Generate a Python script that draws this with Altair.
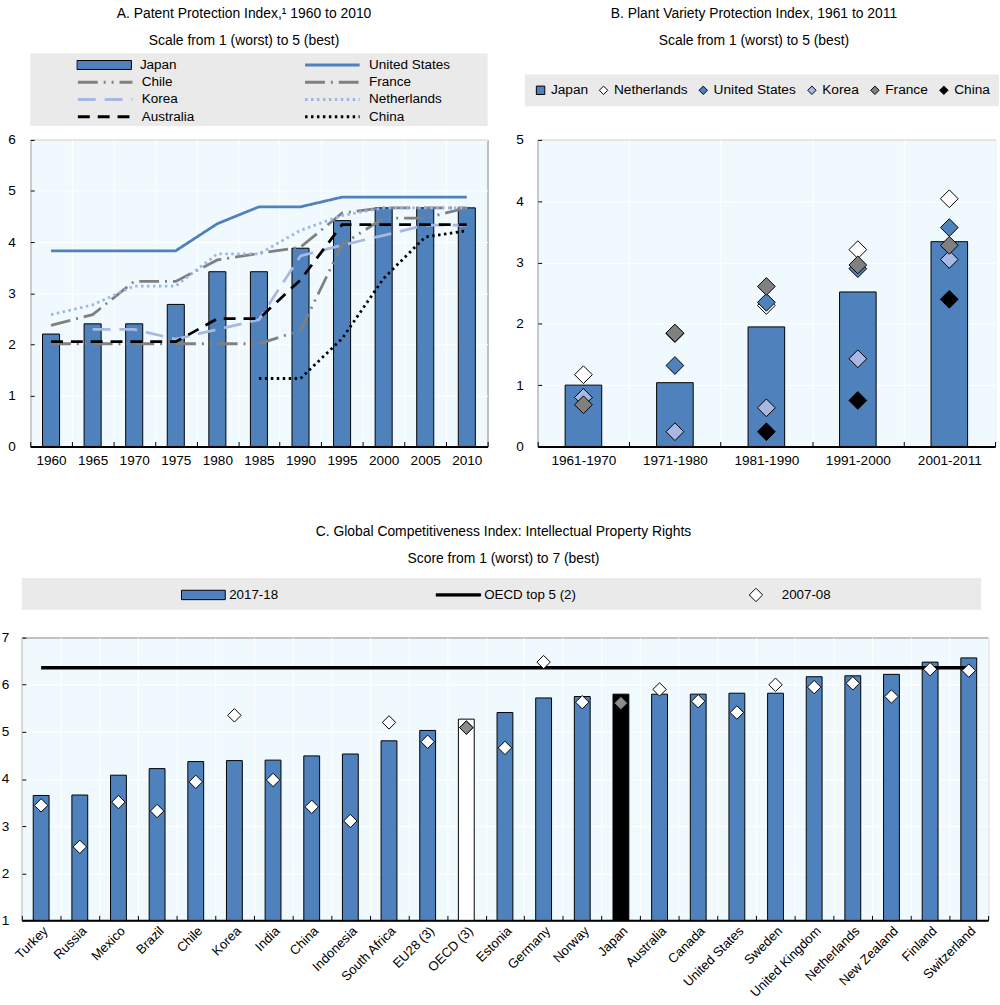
import altair as alt
import pandas as pd

FONT = "Liberation Sans"
BLUE = "#4F81BD"
LIGHT_BLUE = "#A7B9E3"
DOT_BLUE = "#9DB4E6"
GREY = "#808080"
PLOT_BG = "#F0FAFE"
BOX_BG = "#EAEAEA"

# ---------------- Panel A: Patent Protection Index ----------------
years = [1960, 1965, 1970, 1975, 1980, 1985, 1990, 1995, 2000, 2005, 2010]
ppi_japan = [2.20, 2.40, 2.40, 2.78, 3.42, 3.42, 3.88, 4.42, 4.67, 4.67, 4.67]
ppi_united_states = [3.83, 3.83, 3.83, 3.83, 4.36, 4.69, 4.69, 4.88, 4.88, 4.88, 4.88]
ppi_chile = [2.01, 2.01, 2.01, 2.01, 2.01, 2.01, 2.27, 3.95, 4.47, 4.47, 4.67]
ppi_france = [2.37, 2.58, 3.23, 3.23, 3.65, 3.78, 3.90, 4.57, 4.67, 4.67, 4.67]
ppi_korea = [None, 2.29, 2.29, 2.10, 2.29, 2.48, 3.73, 3.94, 4.13, 4.33, 4.33]
ppi_netherlands = [2.58, 2.77, 3.14, 3.14, 3.77, 3.77, 4.23, 4.52, 4.67, 4.67, 4.67]
ppi_australia = [2.05, 2.05, 2.05, 2.05, 2.50, 2.50, 3.26, 4.34, 4.34, 4.34, 4.34]
ppi_china = [None, None, None, None, None, 1.33, 1.33, 2.11, 3.29, 4.10, 4.22]

# ---------------- Panel B: Plant Variety Protection Index ----------------
periods = ["1961-1970", "1971-1980", "1981-1990", "1991-2000", "2001-2011"]
pvp_japan = [1.00, 1.04, 1.95, 2.52, 3.34]
pvp_netherlands = [1.17, 1.84, 2.30, 3.21, 4.04]
pvp_united_states = [0.80, 1.32, 2.35, 2.90, 3.57]
pvp_korea = [0.80, 0.24, 0.63, 1.43, 3.05]
pvp_france = [0.68, 1.85, 2.61, 2.96, 3.28]
pvp_china = [None, None, 0.24, 0.75, 2.40]

# ---------------- Panel C: GCI Intellectual Property Rights ----------------
countries = ["Turkey", "Russia", "Mexico", "Brazil", "Chile", "Korea", "India", "China",
             "Indonesia", "South Africa", "EU28 (3)", "OECD (3)", "Estonia", "Germany",
             "Norway", "Japan", "Australia", "Canada", "United States", "Sweden",
             "United Kingdom", "Netherlands", "New Zealand", "Finland", "Switzerland"]
gci_2017_18 = [3.65, 3.66, 4.08, 4.22, 4.37, 4.39, 4.40, 4.49, 4.53, 4.81, 5.03, 5.27, 5.41,
               5.72, 5.75, 5.80, 5.80, 5.80, 5.82, 5.82, 6.17, 6.19, 6.22, 6.48, 6.57]
gci_2007_08 = [3.44, 2.56, 3.51, 3.32, 3.94, 5.35, 3.98, 3.41, 3.11, 5.20, 4.79, 5.09, 4.66,
               6.48, 5.63, 5.61, 5.90, 5.65, 5.41, 6.00, 5.95, 6.03, 5.75, 6.33, 6.30]
oecd_top5 = 6.36
oecd_top5_span = ["Turkey", "Switzerland"]
highlight_countries = ["Japan", "OECD (3)"]

# ---------------- data frames ----------------
df_a_bars = pd.DataFrame({"year": years, "value": ppi_japan, "series": "Japan"})
a_series = [("United States", ppi_united_states), ("Chile", ppi_chile), ("France", ppi_france),
            ("Korea", ppi_korea), ("Netherlands", ppi_netherlands),
            ("Australia", ppi_australia), ("China", ppi_china)]
rows = []
for name, vals in a_series:
    for yr, v in zip(years, vals):
        if v is not None:
            rows.append({"year": yr, "value": v, "series": name})
df_a_lines = pd.DataFrame(rows)

df_b_bars = pd.DataFrame({"period": periods, "value": pvp_japan})
b_series = [("Netherlands", pvp_netherlands), ("United States", pvp_united_states),
            ("Korea", pvp_korea), ("France", pvp_france), ("China", pvp_china)]
rows = []
for name, vals in b_series:
    for p, v in zip(periods, vals):
        if v is not None:
            rows.append({"period": p, "value": v, "series": name})
df_b_points = pd.DataFrame(rows)

df_c_bars = pd.DataFrame({"country": countries, "score": gci_2017_18})
df_c_points = pd.DataFrame({"country": countries, "score": gci_2007_08, "key": "2007-08"})
df_c_hl = df_c_points[df_c_points["country"].isin(highlight_countries)]
df_c_top5 = pd.DataFrame({"country": oecd_top5_span, "value": [oecd_top5] * len(oecd_top5_span)})

# ---------------- axis helpers ----------------
LABEL = dict(labelFont=FONT, labelFontSize=13.7, labelColor="black")


def main_x(**kw):
    d = dict(title=None, orient="bottom", labelAngle=0, labelPadding=7, labelOverlap=False,
             ticks=False, tickSize=0, domain=True, domainColor="black", domainWidth=2,
             grid=True, gridColor="white", gridWidth=1, tickBand="extent", **LABEL)
    d.update(kw)
    return alt.Axis(**d)


def tick_x():
    return alt.Axis(title=None, orient="bottom", offset=-5, ticks=True, tickSize=5,
                    tickColor="black", tickWidth=1, tickBand="extent", labels=False,
                    domain=False, grid=False)


def main_y(vals, pad=15):
    return alt.Axis(title=None, orient="left", values=vals, labelPadding=pad, labelFlush=False,
                    labelOverlap=False, ticks=False, tickSize=0, domain=False, grid=True,
                    gridColor="white", gridWidth=1, **LABEL)


def tick_y(vals):
    return alt.Axis(title=None, orient="left", values=vals, offset=-4, ticks=True, tickSize=4,
                    tickColor="black", tickWidth=1, labels=False, domain=False, grid=False)


PLOT_VIEW = alt.ViewBackground(fill=PLOT_BG, stroke="black", strokeWidth=1)


def title(text, sub, offset, dx):
    return alt.Title(text, subtitle=sub, anchor="middle", frame="group", offset=offset, dx=dx,
                     font=FONT, fontSize=14, fontWeight="normal", color="black",
                     subtitleFont=FONT, subtitleFontSize=14, subtitleColor="black",
                     subtitlePadding=12.5)


# ---------------- Panel A chart ----------------
# legend entries fill column by column: Japan, Chile, Korea, Australia | United States, France, Netherlands, China
legA_order = ["Japan", "Chile", "Korea", "Australia", "United States", "France", "Netherlands", "China"]
legA_colors = ["transparent", GREY, LIGHT_BLUE, "black", BLUE, GREY, DOT_BLUE, "black"]
legA_dashes = [[1, 0], [20, 6, 2, 6, 2, 6], [18, 9], [12, 8], [1, 0], [20, 6, 2, 6], [2.5, 3.5], [2.5, 3.5]]

legA_lines = alt.Legend(title=None, orient="none", legendX=46.5, legendY=-82.5, columns=2,
                        columnPadding=110, rowPadding=3.4, clipHeight=14, symbolType="stroke",
                        symbolSize=3025, symbolStrokeWidth=3, symbolOpacity=1, labelOffset=8,
                        labelFont=FONT, labelFontSize=13.6, labelColor="black", padding=0,
                        labelExpr="datum.label == 'Japan' ? '' : datum.label")
legA_japan = alt.Legend(title=None, orient="none", legendX=46.5, legendY=-82.5, clipHeight=14,
                        symbolType="M-1,-0.164H1V0.164H-1Z", symbolSize=3025,
                        symbolStrokeColor="black", symbolStrokeWidth=1, symbolOpacity=1,
                        labelOffset=8, labelFont=FONT, labelFontSize=13.6, labelColor="black",
                        padding=0)

xA = alt.Scale(paddingInner=0, paddingOuter=0)
yA = alt.Scale(domain=[0, 6], nice=False)

barsA = alt.Chart(df_a_bars).mark_bar(width=alt.RelativeBandSize(0.41), strokeWidth=1).encode(
    x=alt.X("year:O", scale=xA, axis=main_x()),
    y=alt.Y("value:Q", scale=yA, axis=main_y(list(range(0, 7)))),
    fill=alt.Fill("series:N", scale=alt.Scale(domain=["Japan"], range=[BLUE]), legend=legA_japan),
    stroke=alt.Stroke("series:N", scale=alt.Scale(domain=["Japan"], range=["black"]), legend=legA_japan),
)
linesA = alt.Chart(df_a_lines).mark_line(strokeWidth=2.8).encode(
    x=alt.X("year:O", scale=xA, axis=tick_x()),
    y=alt.Y("value:Q", scale=yA, axis=tick_y(list(range(0, 7)))),
    color=alt.Color("series:N", scale=alt.Scale(domain=legA_order, range=legA_colors), legend=legA_lines),
    strokeDash=alt.StrokeDash("series:N", scale=alt.Scale(domain=legA_order, range=legA_dashes), legend=legA_lines),
)
chartA = alt.layer(barsA, linesA).resolve_axis(x="independent", y="independent").properties(
    width=461, height=309, view=PLOT_VIEW)

# ---------------- Panel B chart ----------------
legB_order = ["Japan", "Netherlands", "United States", "Korea", "France", "China"]
legB_fill = [BLUE, "white", BLUE, LIGHT_BLUE, GREY, "black"]
legB_shape = ["square", "diamond", "diamond", "diamond", "diamond", "diamond"]
legB = alt.Legend(title=None, orient="none", legendX=-13, legendY=-66, direction="horizontal",
                  columns=6, columnPadding=8.5, clipHeight=14, symbolSize=72,
                  symbolStrokeColor="black", symbolStrokeWidth=1, symbolOpacity=1,
                  labelOffset=3.5, labelFont=FONT, labelFontSize=13.8, labelColor="black",
                  padding=9, fillColor=BOX_BG)

xB = alt.Scale(paddingInner=0, paddingOuter=0)
yB = alt.Scale(domain=[0, 5], nice=False)

barsB = alt.Chart(df_b_bars).mark_bar(width=alt.RelativeBandSize(0.40), stroke="black", strokeWidth=1, color=BLUE).encode(
    x=alt.X("period:N", scale=xB, axis=main_x()),
    y=alt.Y("value:Q", scale=yB, axis=main_y(list(range(0, 6)), pad=14.5)),
)
pointsB = alt.Chart(df_b_points).mark_point(filled=True, size=320, strokeWidth=1, opacity=1).encode(
    x=alt.X("period:N", scale=xB, axis=tick_x()),
    y=alt.Y("value:Q", scale=yB, axis=tick_y(list(range(0, 6)))),
    fill=alt.Fill("series:N", scale=alt.Scale(domain=legB_order, range=legB_fill), legend=legB),
    shape=alt.Shape("series:N", scale=alt.Scale(domain=legB_order, range=legB_shape), legend=legB),
    stroke=alt.Stroke("series:N", scale=alt.Scale(domain=legB_order, range=["black"] * len(legB_order)), legend=legB),
)
chartB = alt.layer(barsB, pointsB).resolve_axis(x="independent", y="independent").properties(
    width=461, height=309, view=PLOT_VIEW)

# ---------------- Panel C chart ----------------
legC_keys = ["2017-18", "OECD top 5 (2)", "2007-08"]
RECT_C = "M-0.98,-0.21H0.98V0.21H-0.98Z"
LINE_C = "M-1,-0.05H1V0.05H-1Z"
DIAMOND_C = "M0,-0.3L0.3,0L0,0.3L-0.3,0Z"
legC = alt.Legend(title=None, orient="none", legendX=160, legendY=-50, direction="horizontal",
                  columns=3, columnPadding=158, clipHeight=14, symbolSize=2025,
                  symbolStrokeColor="black", symbolStrokeWidth=1, symbolOpacity=1,
                  labelOffset=3, labelFont=FONT, labelFontSize=13.45, labelColor="black", padding=0)

xC = alt.Scale(domain=countries, paddingInner=0, paddingOuter=0)
yC = alt.Scale(domain=[1, 7], zero=False, nice=False, clamp=True)

barsC = alt.Chart(df_c_bars).transform_calculate(
    kind="datum.country === 'Japan' ? 'Japan' : (datum.country === 'OECD (3)' ? 'OECD' : 'Other')"
).mark_bar(width=alt.RelativeBandSize(0.41), stroke="black", strokeWidth=1).encode(
    x=alt.X("country:N", scale=xC, axis=main_x(labelAngle=-45, labelPadding=4, labelFontSize=13.2)),
    y=alt.Y("score:Q", scale=yC, axis=main_y(list(range(1, 8)), pad=13)),
    y2=alt.datum(1),
    color=alt.Color("kind:N", scale=alt.Scale(domain=["Other", "Japan", "OECD"], range=[BLUE, "black", "white"]), legend=None),
)
top5C = alt.Chart(df_c_top5).mark_line(color="black", strokeWidth=3.5).encode(
    x=alt.X("country:N", scale=xC, axis=None),
    y=alt.Y("value:Q", scale=yC, axis=None),
)
pointsC = alt.Chart(df_c_points).mark_point(filled=True, size=2025, strokeWidth=1, opacity=1).encode(
    x=alt.X("country:N", scale=xC, axis=tick_x()),
    y=alt.Y("score:Q", scale=yC, axis=tick_y(list(range(1, 8)))),
    shape=alt.Shape("key:N", scale=alt.Scale(domain=legC_keys, range=[RECT_C, LINE_C, DIAMOND_C]), legend=legC),
    fill=alt.Fill("key:N", scale=alt.Scale(domain=legC_keys, range=[BLUE, "black", "white"]), legend=legC),
    stroke=alt.Stroke("key:N", scale=alt.Scale(domain=legC_keys, range=["black", "black", "black"]), legend=legC),
)
hlC = alt.Chart(df_c_hl).mark_point(filled=True, size=2025, shape=DIAMOND_C, fill="#8C8C8C",
                                     stroke="black", strokeWidth=1, opacity=1).encode(
    x=alt.X("country:N", scale=xC, axis=None),
    y=alt.Y("score:Q", scale=yC, axis=None),
)
chartC = alt.layer(barsC, top5C, pointsC, hlC).resolve_axis(x="independent", y="independent").properties(
    width=974, height=285, view=PLOT_VIEW)

# ---------------- legend boxes with panel titles ----------------
empty = pd.DataFrame({"v": pd.Series([], dtype="float64")})


def box(w, h, ttl=None, fill=BOX_BG):
    props = dict(width=w, height=h, view=alt.ViewBackground(fill=fill, strokeWidth=0))
    if ttl is not None:
        props["title"] = ttl
    return alt.Chart(empty).mark_point().encode(x=alt.value(0), y=alt.value(0)).properties(**props)


boxA = box(461, 73, title("A. Patent Protection Index,\u00b9 1960 to 2010", "Scale from 1 (worst) to 5 (best)", 6, -15))
boxB = box(461, 73, title("B. Plant Variety Protection Index, 1961 to 2011", "Scale from 1 (worst) to 5 (best)", 6, -12.5), fill="transparent")
boxC = box(967, 32, title("C. Global Competitiveness Index: Intellectual Property Rights", "Score from 1 (worst) to 7 (best)", 12.7, 2))

spacer = alt.Chart(empty).mark_point().encode(x=alt.value(0), y=alt.value(0)).properties(
    width=1, height=1, view=alt.ViewBackground(strokeWidth=0))

IND = dict(color="independent", fill="independent", shape="independent",
           strokeDash="independent", stroke="independent")


def ind(c):
    return c.resolve_scale(**IND).resolve_legend(**IND)


colA = ind(alt.vconcat(boxA, chartA, spacing=14, bounds="flush"))
colB = ind(alt.vconcat(boxB, chartB, spacing=14, bounds="flush"))
top_inner = ind(alt.hconcat(colA, colB, spacing=26.5))
top = ind(alt.hconcat(spacer, top_inner, spacing=-16.5))
colC = ind(alt.vconcat(boxC, chartC, spacing=28, bounds="flush"))
bottom = ind(alt.hconcat(colC, spacing=0))

chart = ind(alt.vconcat(top, bottom, spacing=56.7)).properties(
    padding={"left": 0, "top": 3, "right": 0, "bottom": 0}, background="white"
).configure_view(strokeWidth=0).configure(font=FONT)

chart.save("out.html", embed_options={"renderer": "svg", "actions": False})
